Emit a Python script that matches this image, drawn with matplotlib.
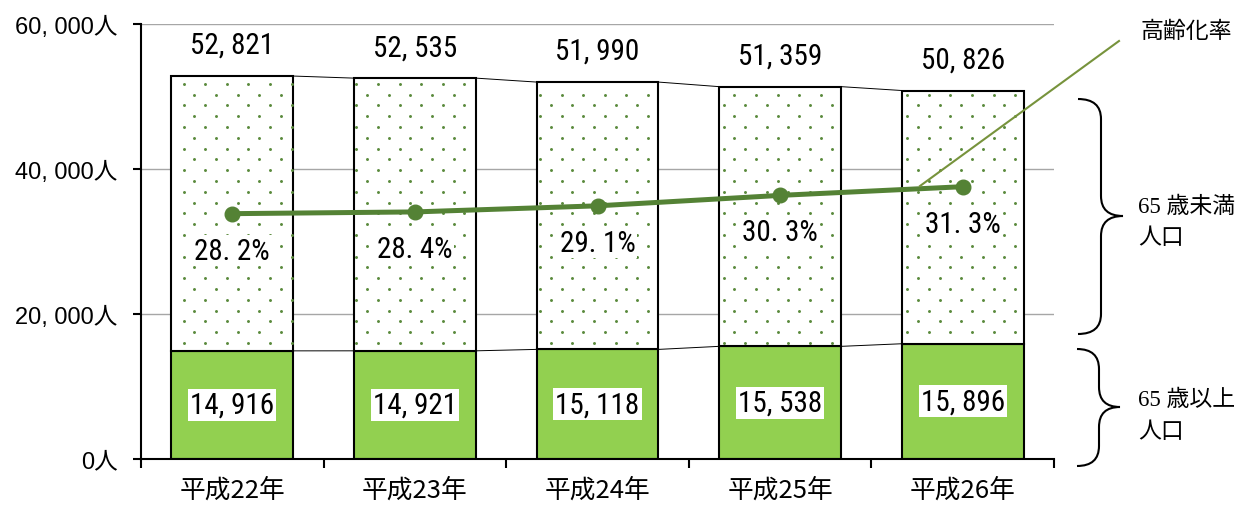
import matplotlib
matplotlib.use('Agg')
import matplotlib.pyplot as plt
import matplotlib.transforms as mtransforms
from matplotlib import font_manager as fm
from matplotlib.path import Path
from matplotlib.patches import PathPatch
from matplotlib.lines import Line2D
import numpy as np

# ---- data ----
years = ['平成22年', '平成23年', '平成24年', '平成25年', '平成26年']
total_pop = [52821, 52535, 51990, 51359, 50826]      # 総人口
elderly_pop = [14916, 14921, 15118, 15538, 15896]    # 65歳以上人口
aging_rate = [28.2, 28.4, 29.1, 30.3, 31.3]          # 高齢化率 (%)
y_ticks = [0, 20000, 40000, 60000]
y_tick_labels = ['0人', '20, 000人', '40, 000人', '60, 000人']

under65_pop = [t - e for t, e in zip(total_pop, elderly_pop)]

# pick a narrow sans face for the value labels if one is installed
_fonts = fm.fontManager.ttflist
_names = {f.name for f in _fonts}
NARROW_STRETCH = 'normal'
if 'Liberation Sans Narrow' in _names:
    NARROW_FAMILY = 'Liberation Sans Narrow'
elif 'Roboto Condensed' in _names:
    NARROW_FAMILY = 'Roboto Condensed'
elif any(f.name == 'DejaVu Sans' and 'Condensed' in f.fname for f in _fonts):
    NARROW_FAMILY = 'DejaVu Sans'
    NARROW_STRETCH = 'condensed'
else:
    NARROW_FAMILY = 'Liberation Sans'

NUM_NARROW = [NARROW_FAMILY, 'Noto Sans CJK JP']
NUM = ['Liberation Sans', 'Noto Sans CJK JP']
CJK = ['Noto Sans CJK JP', 'DejaVu Sans']
SERIF = ['Liberation Serif', 'Noto Sans CJK JP']

GREEN = '#92D050'
LINE_GREEN = '#548235'
DOT_GREEN = '#5A8A3C'
CALLOUT = '#77933C'

W, H, DPI = 1240, 506, 100
fig = plt.figure(figsize=(W / DPI, H / DPI), dpi=DPI)
# helper transform: pixel coordinates measured from the top-left corner
pix = mtransforms.Affine2D().scale(1 / W, -1 / H).translate(0, 1) + fig.transFigure
PX = 72 / DPI  # points per pixel

ax = fig.add_axes([141 / W, 1 - 460 / H, (1054 - 141) / W, (460 - 25) / H])
x = np.arange(len(years))
bw = 0.668
ax.set_xlim(-0.5, len(years) - 0.5)
ax.set_ylim(0, 60000)

# axes styling
for s in ('top', 'right'):
    ax.spines[s].set_visible(False)
for s in ('left', 'bottom'):
    ax.spines[s].set_linewidth(1.5)
ax.set_yticks(y_ticks)
ax.set_yticklabels(y_tick_labels, fontfamily=NUM, fontsize=17)
ax.tick_params(axis='y', direction='out', length=8 * PX, width=1.5, pad=11)
ax.set_xticks(x)
ax.set_xticklabels(years, fontfamily=CJK, fontsize=18.5)
ax.set_xticks(np.arange(-0.5, len(years), 1.0), minor=True)
ax.tick_params(axis='x', which='major', length=0, pad=13)
ax.tick_params(axis='x', which='minor', direction='out', length=9 * PX, width=1.5)
ax.yaxis.grid(True, color='#A6A6A6', lw=1.0)
ax.set_axisbelow(True)

# stacked bars
ax.bar(x, elderly_pop, bw, color=GREEN, edgecolor='black', lw=1.5, zorder=2)
ax.bar(x, under65_pop, bw, bottom=elderly_pop, color='white',
       edgecolor='black', lw=1.5, zorder=2)

# dotted fill for the under-65 segment (staggered dot lattice in pixel space)
fig.canvas.draw()
to_disp = ax.transData
to_data = ax.transData.inverted()
dx, dy = 21.6, 10.8
dots = []
for i in range(len(years)):
    (x0, y0) = to_disp.transform((x[i] - bw / 2, elderly_pop[i]))
    (x1, y1) = to_disp.transform((x[i] + bw / 2, total_pop[i]))
    rows = np.arange(np.floor(y0 / dy) - 1, np.ceil(y1 / dy) + 1)
    for r in rows:
        py = r * dy
        off = 0 if int(r) % 2 == 0 else dx / 2
        cols = np.arange(np.floor(x0 / dx) - 1, np.ceil(x1 / dx) + 1) * dx + off
        for px_ in cols:
            if x0 + 1.5 <= px_ <= x1 - 1.5 and y0 + 3 <= py <= y1 - 3:
                dots.append((px_, py))
dots = to_data.transform(np.array(dots))
ax.scatter(dots[:, 0], dots[:, 1], s=4.5, color=DOT_GREEN, lw=0, zorder=3)

# series lines between bars
for i in range(len(years) - 1):
    ax.plot([x[i] + bw / 2, x[i + 1] - bw / 2], [total_pop[i], total_pop[i + 1]],
            color='black', lw=0.7, zorder=2)
    ax.plot([x[i] + bw / 2, x[i + 1] - bw / 2], [elderly_pop[i], elderly_pop[i + 1]],
            color='black', lw=0.7, zorder=2)

def fmt_int(v):
    return f'{v:,}'.replace(',', ', ')

LABEL_KW = dict(fontsize=21, fontfamily=NUM_NARROW, fontstretch=NARROW_STRETCH)

for i in range(len(years)):
    ax.annotate(fmt_int(total_pop[i]), (x[i], total_pop[i]),
                xytext=(0, 31 * PX), textcoords='offset points',
                ha='center', va='center', zorder=5, **LABEL_KW)
    ax.text(x[i], elderly_pop[i] / 2, fmt_int(elderly_pop[i]),
            ha='center', va='center',
            bbox=dict(fc='white', ec='none', pad=1.5), zorder=5, **LABEL_KW)

# aging-rate line on a hidden 0-50 % secondary scale
ax2 = ax.twinx()
ax2.set_ylim(0, 50)
ax2.axis('off')
ax2.plot(x, aging_rate, color=LINE_GREEN, lw=3.6, marker='o', ms=10.5,
         solid_capstyle='round', zorder=4)
for i in range(len(years)):
    ax2.annotate(f'{aging_rate[i]:.1f}%'.replace('.', '. '), (x[i], aging_rate[i]),
                 xytext=(0, -37 * PX), textcoords='offset points',
                 ha='center', va='center',
                 bbox=dict(fc='white', ec='none', pad=1.0), zorder=5, **LABEL_KW)

# callout for the rate line
fig.add_artist(Line2D([920, 1119], [187, 42], transform=pix, color=CALLOUT, lw=1.5))
fig.text(1141, 32, '高齢化率', transform=pix, ha='left', va='center',
         fontsize=16.5, fontfamily=SERIF)

# curly braces with their labels
def brace(x_end, x_mid, x_tip, y_top, y_tip, y_bot, r):
    verts = [
        (x_end, y_top), (x_mid, y_top), (x_mid, y_top + r),
        (x_mid, y_tip - r), (x_mid, y_tip), (x_tip, y_tip),
        (x_mid, y_tip), (x_mid, y_tip + r),
        (x_mid, y_bot - r), (x_mid, y_bot), (x_end, y_bot),
    ]
    codes = [Path.MOVETO, Path.CURVE3, Path.CURVE3,
             Path.LINETO, Path.CURVE3, Path.CURVE3,
             Path.CURVE3, Path.CURVE3,
             Path.LINETO, Path.CURVE3, Path.CURVE3]
    fig.add_artist(PathPatch(Path(verts, codes), transform=pix, fc='none',
                             ec='black', lw=1.5))

brace(1078, 1101, 1123, 100, 217, 335, 20)
brace(1077, 1099, 1120, 350, 408, 467, 20)

fig.text(1138, 207, '65 歳未満', transform=pix, ha='left', va='center',
         fontsize=16.5, fontfamily=SERIF)
fig.text(1138, 239, '人口', transform=pix, ha='left', va='center',
         fontsize=16.5, fontfamily=SERIF)
fig.text(1138, 400, '65 歳以上', transform=pix, ha='left', va='center',
         fontsize=16.5, fontfamily=SERIF)
fig.text(1138, 433, '人口', transform=pix, ha='left', va='center',
         fontsize=16.5, fontfamily=SERIF)

fig.savefig('out.png', dpi=DPI)
